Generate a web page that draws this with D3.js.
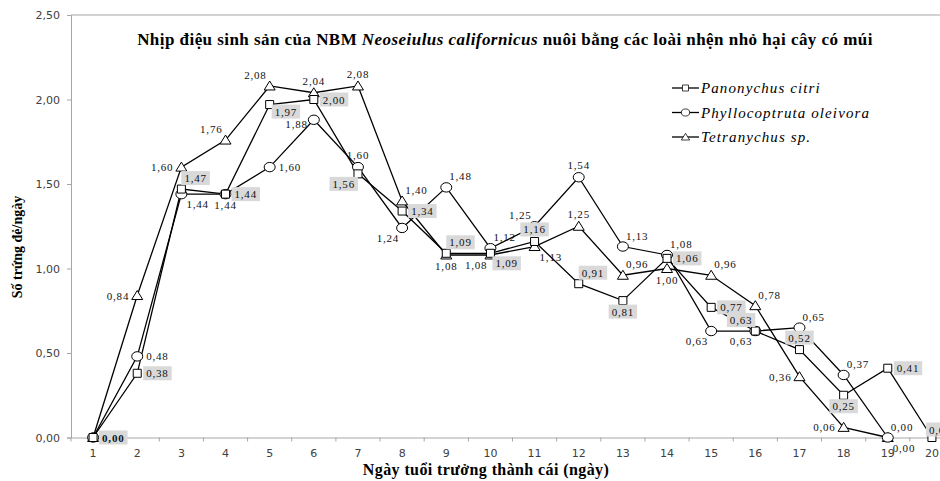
<!DOCTYPE html>
<html>
<head>
<meta charset="utf-8">
<script src="https://cdn.jsdelivr.net/npm/d3@7"></script>
<style>
  body { margin: 0; background: #fff; }
  svg { display: block; overflow: hidden; }
</style>
</head>
<body>
<script>
// days and the three series (trứng/ngày)
const days = d3.range(1, 21);
const panonychus = [0.00, 0.38, 1.47, 1.44, 1.97, 2.00, 1.56, 1.34, 1.09, 1.09, 1.16, 0.91, 0.81, 1.06, 0.77, 0.63, 0.52, 0.25, 0.41, 0.00];
const phyllocoptruta = [0.00, 0.48, 1.44, 1.44, 1.60, 1.88, 1.60, 1.24, 1.48, 1.12, 1.25, 1.54, 1.13, 1.08, 0.63, 0.63, 0.65, 0.37, 0.00];
const tetranychus = [0.00, 0.84, 1.60, 1.76, 2.08, 2.04, 2.08, 1.40, 1.08, 1.08, 1.13, 1.25, 0.96, 1.00, 0.96, 0.78, 0.36, 0.06, 0.00];
const yTicks = [0, 0.5, 1, 1.5, 2, 2.5];
const seriesNames = ['Panonychus citri', 'Phyllocoptruta oleivora', 'Tetranychus sp.'];

// where each value label sits around its point (layout only)
const posP = ['r','r','tr','r','rb','r','bl','r','tr','br','t','tr','b','r','r','tl','t','b','r','tc'];
const posO = [null,'r','br','b','r','lb','t','bl','tr','tr','tl','t','tr','tr','bl','bl','tr','tr','br'];
const posT = [null,'l','l','tl','tl','t','t','tr','b','bl','br','t','tr','b','tr','tr','l','l','tr'];

const W = 940, H = 481;
const m = { left: 71, top: 15, bottom: 43.5 };
const band = 44.15;

const svg = d3.select('body').append('svg')
    .attr('width', W)
    .attr('height', H);

const x = d3.scaleBand()
    .domain(days)
    .range([m.left, m.left + band * days.length]);

const y = d3.scaleLinear()
    .domain([0, 2.5])
    .range([H - m.bottom, m.top]);

const cx = d => x(d) + x.bandwidth() / 2;
const fmt = v => d3.format('.2f')(v).replace('.', ',');

// frame: top line
svg.append('line')
    .attr('x1', m.left).attr('x2', W)
    .attr('y1', y(2.5)).attr('y2', y(2.5))
    .attr('stroke', '#a6a6a6');

// y axis
const yAxis = svg.append('g')
    .attr('transform', `translate(${m.left},0)`)
    .call(d3.axisLeft(y).tickValues(yTicks).tickFormat(fmt).tickSize(4).tickPadding(7));
yAxis.select('.domain').attr('stroke', '#a6a6a6');
yAxis.selectAll('.tick line').attr('stroke', '#a6a6a6');
yAxis.selectAll('text')
    .attr('font-family', 'DejaVu Sans, sans-serif')
    .attr('font-size', 11)
    .attr('fill', '#404040');

// x axis, ticks between the categories
const xAxis = svg.append('g')
    .attr('transform', `translate(0,${y(0)})`)
    .call(d3.axisBottom(x).tickSize(0).tickPadding(12));
xAxis.select('.domain').attr('stroke', '#a6a6a6');
xAxis.selectAll('text')
    .attr('font-family', 'DejaVu Sans, sans-serif')
    .attr('font-size', 11)
    .attr('fill', '#404040');
xAxis.selectAll('.sep')
    .data(days)
    .enter()
    .append('line')
    .attr('x1', d => x(d)).attr('x2', d => x(d))
    .attr('y1', 0).attr('y2', 4)
    .attr('stroke', '#a6a6a6');

// titles
const title = svg.append('text')
    .attr('x', 505).attr('y', 45)
    .attr('text-anchor', 'middle')
    .attr('font-family', 'Liberation Serif, serif')
    .attr('font-weight', 'bold')
    .attr('font-size', 17)
    .attr('letter-spacing', 0.45);
title.append('tspan').text('Nhịp điệu sinh sản của NBM ');
title.append('tspan').attr('font-style', 'italic').text('Neoseiulus californicus');
title.append('tspan').text(' nuôi bằng các loài nhện nhỏ hại cây có múi');

svg.append('text')
    .attr('transform', 'translate(22,247) rotate(-90)')
    .attr('text-anchor', 'middle')
    .attr('font-family', 'Liberation Serif, serif')
    .attr('font-weight', 'bold')
    .attr('font-size', 14)
    .text('Số trứng đẻ/ngày');

svg.append('text')
    .attr('x', 486).attr('y', 475)
    .attr('text-anchor', 'middle')
    .attr('font-family', 'Liberation Serif, serif')
    .attr('font-weight', 'bold')
    .attr('font-size', 16)
    .attr('letter-spacing', 0.4)
    .text('Ngày tuổi trưởng thành cái (ngày)');

// markers
const drawMarker = (g, type, px, py) => {
    const s = g.append('path')
        .attr('fill', '#fff')
        .attr('stroke', '#000')
        .attr('stroke-width', 1);
    if (type === 'square') s.attr('d', `M${px - 4},${py - 4}h8v8h-8z`);
    if (type === 'circle') s.attr('d', `M${px - 5.5},${py}a5.5,4.7 0 1,0 11,0a5.5,4.7 0 1,0 -11,0z`);
    if (type === 'triangle') s.attr('d', `M${px},${py - 5}L${px + 5.5},${py + 4}L${px - 5.5},${py + 4}z`);
};

const line = d3.line()
    .x((v, i) => cx(days[i]))
    .y(v => y(v));

const series = [
    { values: tetranychus, marker: 'triangle', pos: posT, boxed: false },
    { values: phyllocoptruta, marker: 'circle', pos: posO, boxed: false },
    { values: panonychus, marker: 'square', pos: posP, boxed: true }
];

series.forEach(s => {
    svg.append('path')
        .datum(s.values)
        .attr('d', line)
        .attr('fill', 'none')
        .attr('stroke', '#000')
        .attr('stroke-width', 1.3);
});
series.forEach(s => {
    const g = svg.append('g');
    s.values.forEach((v, i) => drawMarker(g, s.marker, cx(days[i]), y(v)));
});

// value labels
const labelAt = (p, px, py) => {
    switch (p) {
        case 'r': return [px + 9, py + 4, 'start'];
        case 'rb': return [px + 5, py + 11, 'start'];
        case 'l': return [px - 8, py + 4, 'end'];
        case 'lb': return [px - 6, py + 8, 'end'];
        case 't': return [px, py - 8, 'middle'];
        case 'tc': return [px - 3, py - 4, 'start'];
        case 'b': return [px, py + 15, 'middle'];
        case 'tr': return [px + 3, py - 7, 'start'];
        case 'br': return [px + 5, py + 14, 'start'];
        case 'tl': return [px - 3, py - 7, 'end'];
        case 'bl': return [px - 3, py + 14, 'end'];
    }
};

series.forEach(s => {
    const g = svg.append('g');
    s.values.forEach((v, i) => {
        if (!s.pos[i]) return;
        const [lx, ly, anchor] = labelAt(s.pos[i], cx(days[i]), y(v));
        const t = g.append('text')
            .attr('x', lx).attr('y', ly)
            .attr('text-anchor', anchor)
            .attr('font-family', 'Liberation Serif, serif')
            .attr('font-size', 11)
            .attr('letter-spacing', 0.8)
            .attr('font-weight', i === 0 ? 'bold' : 'normal')
            .attr('fill', '#111')
            .text(fmt(v));
        if (s.boxed) {
            const bb = t.node().getBBox();
            g.insert('rect', () => t.node())
                .attr('x', bb.x - 3).attr('y', bb.y - 1)
                .attr('width', bb.width + 6).attr('height', bb.height + 2)
                .attr('fill', '#d9d9d9');
        }
    });
});

// legend
const legend = svg.append('g').attr('transform', 'translate(672,88)');
['square', 'circle', 'triangle'].forEach((mk, i) => {
    const gy = i * 24.5;
    legend.append('line')
        .attr('x1', 0).attr('x2', 27)
        .attr('y1', gy).attr('y2', gy)
        .attr('stroke', '#000').attr('stroke-width', 1.3);
    const lg = legend.append('g').attr('transform', 'scale(0.75)');
    drawMarker(lg, mk, 13.5 / 0.75, gy / 0.75);
    legend.append('text')
        .attr('x', 29).attr('y', gy + 5)
        .attr('font-family', 'Liberation Serif, serif')
        .attr('font-style', 'italic')
        .attr('font-size', 15)
        .attr('letter-spacing', 1.1)
        .text(seriesNames[i]);
});
</script>
</body>
</html>
